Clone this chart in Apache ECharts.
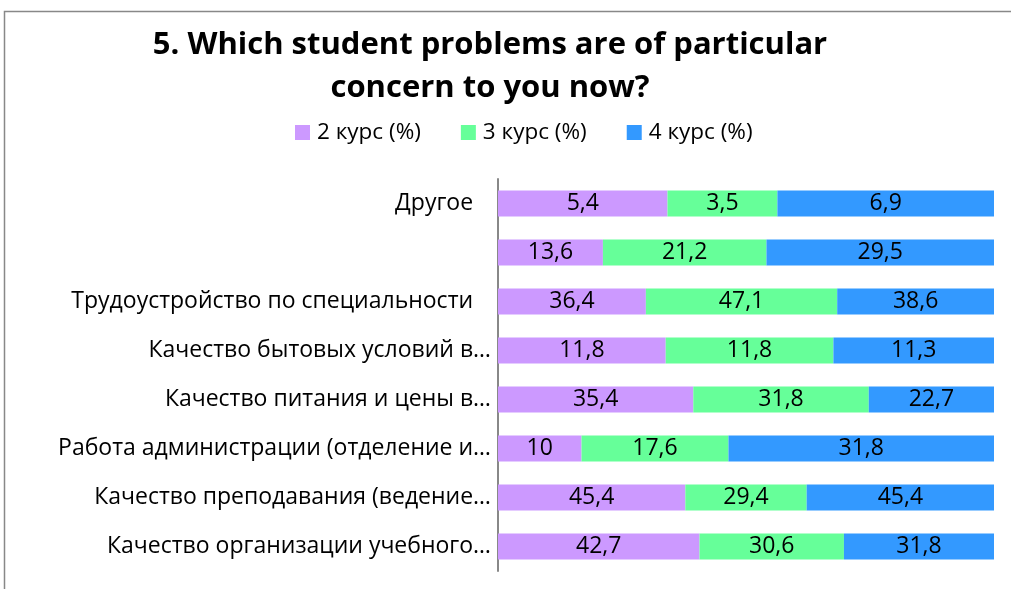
<!DOCTYPE html>
<html>
<head>
<meta charset="utf-8">
<script src="https://cdn.jsdelivr.net/npm/echarts@6/dist/echarts.min.js"></script>
<style>
  html, body { margin: 0; padding: 0; background: #fff; }
  #main { width: 1011px; height: 589px; }
</style>
</head>
<body>
<div id="main"></div>
<script>
// категории сверху вниз
var categories = [
    'Другое   ',
    '',
    'Трудоустройство по специальности   ',
    'Качество бытовых условий в…',
    'Качество питания и цены в…',
    'Работа администрации (отделение и…',
    'Качество преподавания (ведение…',
    'Качество организации учебного…'
];
var seriesNames = ['2 курс (%)', '3 курс (%)', '4 курс (%)'];
var kurs2 = [5.4, 13.6, 36.4, 11.8, 35.4, 10, 45.4, 42.7];
var kurs3 = [3.5, 21.2, 47.1, 11.8, 31.8, 17.6, 29.4, 30.6];
var kurs4 = [6.9, 29.5, 38.6, 11.3, 22.7, 31.8, 45.4, 31.8];
var colors = ['#CC99FF', '#66FF99', '#3399FF'];

var myChart = echarts.init(document.getElementById('main'));
var font = 'Open Sans';

// нормированные доли для 100% стека
var raw = [kurs2, kurs3, kurs4];
var totals = categories.map(function (c, i) {
    return kurs2[i] + kurs3[i] + kurs4[i];
});

var series = raw.map(function (arr, k) {
    return {
        name: seriesNames[k],
        type: 'bar',
        stack: 'total',
        barWidth: '53%',
        itemStyle: { color: colors[k] },
        label: {
            show: true,
            position: 'inside',
            color: '#000',
            fontFamily: font,
            fontSize: 23,
            formatter: function (p) {
                return String(arr[p.dataIndex]).replace('.', ',');
            }
        },
        data: arr.map(function (v, i) { return v / totals[i] * 100; })
    };
});

option = {
    animation: false,
    title: {
        text: '5. Which student problems are of particular\nconcern to you now?',
        left: 485,
        top: 19,
        textAlign: 'center',
        textStyle: {
            fontFamily: font,
            fontWeight: 'bold',
            fontSize: 31,
            lineHeight: 43,
            color: '#000'
        }
    },
    legend: {
        top: 116,
        left: 290,
        itemWidth: 15,
        itemHeight: 15,
        itemGap: 40,
        icon: 'rect',
        textStyle: { fontFamily: font, fontSize: 22.5, color: '#000', padding: [0, 0, 0, 2] },
        data: seriesNames
    },
    grid: {
        left: 498,
        right: 17,
        top: 179,
        bottom: 18,
        containLabel: false
    },
    xAxis: {
        type: 'value',
        min: 0,
        max: 100,
        show: false
    },
    yAxis: {
        type: 'category',
        inverse: true,
        data: categories,
        axisLine: { show: true, lineStyle: { color: '#888', width: 2 } },
        axisTick: { show: false },
        axisLabel: {
            color: '#000',
            fontFamily: font,
            fontSize: 23,
            margin: 7
        }
    },
    graphic: [{
        type: 'rect',
        shape: { x: 4.5, y: 11.5, width: 1100, height: 700 },
        style: { fill: 'none', stroke: '#888', lineWidth: 1.5 },
        silent: true
    }],
    series: series
};
myChart.setOption(option);
</script>
</body>
</html>
